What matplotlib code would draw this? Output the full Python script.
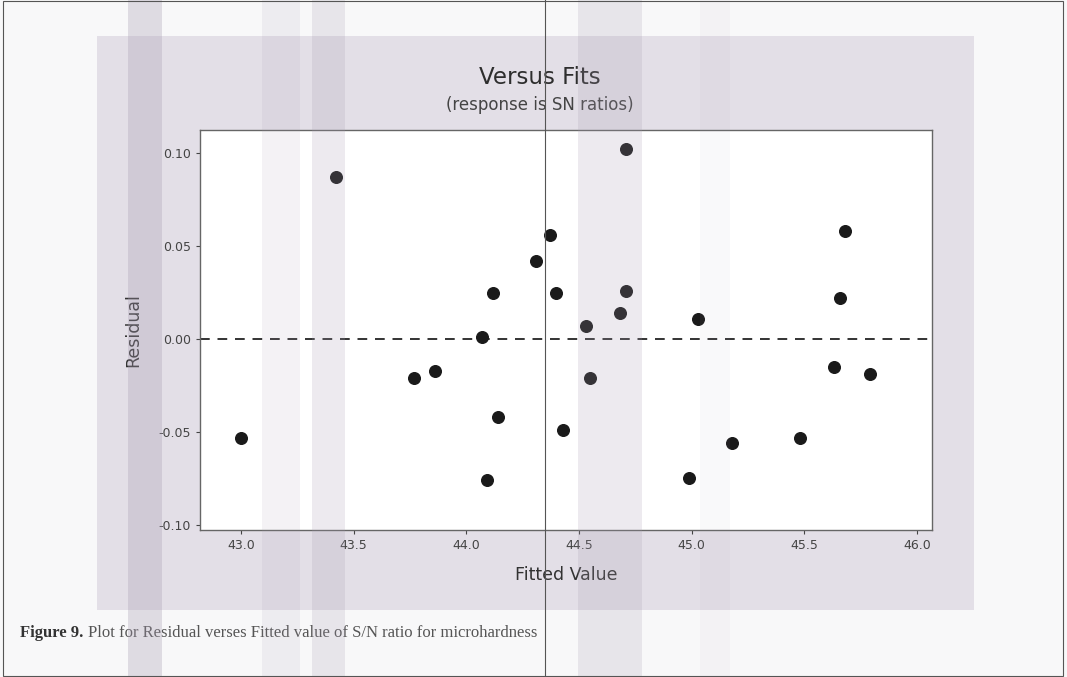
import matplotlib.pyplot as plt
from matplotlib.patches import Rectangle

# fitted values and residuals
fitted = [43.00, 43.42, 43.77, 43.86, 44.07, 44.09, 44.12, 44.14, 44.31, 44.37,
          44.40, 44.43, 44.53, 44.55, 44.68, 44.71, 44.71, 44.99, 45.03, 45.18,
          45.48, 45.63, 45.66, 45.68, 45.79]
residual = [-0.053, 0.087, -0.021, -0.017, 0.001, -0.076, 0.025, -0.042, 0.042, 0.056,
            0.025, -0.049, 0.007, -0.021, 0.014, 0.102, 0.026, -0.075, 0.011, -0.056,
            -0.053, -0.015, 0.022, 0.058, -0.019]
xticks = [43.0, 43.5, 44.0, 44.5, 45.0, 45.5, 46.0]
yticks = [-0.10, -0.05, 0.00, 0.05, 0.10]

W, H = 1067, 677
fig = plt.figure(figsize=(W / 100, H / 100), dpi=100)
fig.patch.set_facecolor('#f8f8f9')


def fx(px):
    return px / W


def fy(py):
    return 1 - py / H


# grey panel of the scanned page
fig.patches.append(Rectangle((fx(97), fy(610)), fx(974 - 97), (610 - 36) / H,
                             transform=fig.transFigure, facecolor='#e3dfe7',
                             edgecolor='none', zorder=0))

# page border
fig.patches.append(Rectangle((fx(3), fy(676)), fx(1063 - 3), (676 - 1) / H,
                             transform=fig.transFigure, facecolor='none',
                             edgecolor='#555555', linewidth=0.8, zorder=6))

ax = fig.add_axes([fx(200), fy(530), fx(932 - 200), (530 - 130) / H], zorder=2)
ax.set_facecolor('white')
ax.scatter(fitted, residual, s=70, color='#1a1a1a', zorder=3)
ax.axhline(0, color='#333333', linestyle=(0, (5, 4)), linewidth=1.4, zorder=2)

ax.set_xlim(42.818, 46.067)
ax.set_ylim(-0.1027, 0.1124)
ax.set_xticks(xticks)
ax.set_xticklabels([f'{v:.1f}' for v in xticks])
ax.set_yticks(yticks)
ax.set_yticklabels([f'{v:.2f}' for v in yticks])
ax.tick_params(labelsize=9, colors='#444444', length=3, direction='out')
for s in ax.spines.values():
    s.set_color('#666666')
    s.set_linewidth(1.0)

ax.set_xlabel('Fitted Value', fontsize=12.5, color='#333333', labelpad=10)
ax.set_ylabel('Residual', fontsize=12.5, color='#333333', labelpad=12)

fig.text(fx(540), fy(77), 'Versus Fits', ha='center', va='center', fontsize=16.5,
         color='#2e2e2e', zorder=3)
fig.text(fx(540), fy(105), '(response is SN ratios)', ha='center', va='center',
         fontsize=12, color='#444444', zorder=3)

# scanner streaks, drawn over everything
for x0, x1, a in [(128, 162, 0.30), (262, 300, 0.12), (312, 345, 0.20),
                  (578, 642, 0.20), (700, 730, 0.06)]:
    fig.patches.append(Rectangle((fx(x0), 0), fx(x1 - x0), 1, transform=fig.transFigure,
                                 facecolor='#a59aaf', alpha=a, edgecolor='none', zorder=5))

# thin vertical scan line through the page
fig.lines.append(plt.Line2D([fx(545), fx(545)], [0, 1], transform=fig.transFigure,
                            color='#555555', linewidth=0.8, zorder=5))

fig.text(fx(20), fy(633), 'Figure 9.', fontsize=12, fontweight='bold',
         family='Liberation Serif', color='#333333', va='center', zorder=3)
fig.text(fx(88), fy(633), 'Plot for Residual verses Fitted value of S/N ratio for microhardness',
         fontsize=12, family='Liberation Serif', color='#555555', va='center', zorder=3)

fig.savefig('out.png', dpi=100, facecolor=fig.get_facecolor())
